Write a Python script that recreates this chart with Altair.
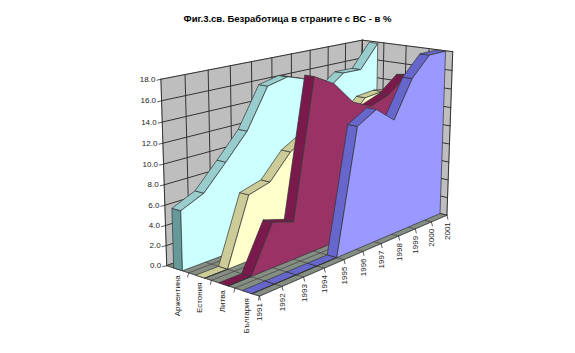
import altair as alt
import numpy as np
import pandas as pd

TITLE = "Фиг.3.св. Безработица в страните с ВС - в %"
years = ["1991","1992","1993","1994","1995","1996","1997","1998","1999","2000","2001"]
series = ["Аржентина","Естония","Литва","България"]
argentina = [5.9,6.9,9.3,11.8,15.8,16.3,15.6,13.9,15.4,15.35,17.85]
estonia   = [0,0,6.6,7.2,9.6,10.8,11.0,11.2,13.1,13.3,13.0]
lithuania = [0,0,4.5,3.8,17.5,16.35,14.05,13.1,13.8,15.4,15.0]
bulgaria  = [0,0,0,0,0,12.55,13.7,12.1,15.9,17.93,17.95]
values = [argentina, estonia, lithuania, bulgaria]
centers = [0.13,0.378,0.63,0.875]
ticks_v = [0,2,4,6,8,10,12,14,16,18]
front_col = ["#CCFFFF","#FFFFCC","#993366","#9999FF"]
strip_col = ["#99CCCC","#CCCC99","#7A1A4C","#6666CC"]
end_col   = ["#669999","#999966","#661A3C","#4D4D99"]

# projective camera fitted to the visible corners of the 3D box (u=year, w=depth, h=value)
corners = [((0,0,0),(167,266)),((0,0,1),(161,79)),((1,0,1),(362,40)),
           ((0,1,0),(259,296)),((1,1,0),(447,215)),((1,1,1),(453,52))]
A=[]
for (u,w,h),(x,y) in corners:
    A.append([u,w,h,1,0,0,0,0,-x*u,-x*w,-x*h,-x])
    A.append([0,0,0,0,u,w,h,1,-y*u,-y*w,-y*h,-y])
P=np.linalg.svd(np.array(A,float))[2][-1].reshape(3,4)
def proj(u,w,v):
    q=P@np.array([u,w,v/18.0,1.0])
    return float(q[0]/q[2]),float(q[1]/q[2])

rows=[]; pid=[0]
def poly(pts,fill,stroke="#333333",sw=0.7):
    pid[0]+=1
    for k,(x,y) in enumerate(pts):
        rows.append(dict(x=x,y=y,poly=pid[0],k=k,fill=fill,stroke=stroke,sw=sw))
def line3(a,b,stroke="#333333",sw=1.0):
    poly([proj(*a),proj(*b)],"transparent",stroke,sw)

WALL="#BEBEBE"
close=lambda l:l+[l[0]]
poly(close([proj(0,0,0),proj(0,0,18),proj(1,0,18),proj(1,0,0)]),WALL,"#999999",.6)
poly(close([proj(1,0,0),proj(1,0,18),proj(1,1,18),proj(1,1,0)]),WALL,"#999999",.6)
for v in ticks_v:
    line3((0,0,v),(1,0,v)); line3((1,0,v),(1,1,v))
n=len(years)
for i in range(n):
    line3((i/(n-1),0,0),(i/(n-1),0,18))
for j in range(5):
    line3((1,j/4,0),(1,j/4,18))
poly(close([proj(0,0,0),proj(1,0,0),proj(1,1,0),proj(0,1,0)]),"#858E83","#444444",.6)
for i in range(n):
    line3((i/(n-1),0,0),(i/(n-1),1,0),"#444444",.7)
for j in range(5):
    line3((0,j/4,0),(1,j/4,0),"#444444",.7)

HALF=0.05
for s,vals in enumerate(values):
    wf=centers[s]+HALF; wb=centers[s]-HALF
    us=[i/(n-1) for i in range(n)]
    if vals[0]>0:
        poly(close([proj(0,wb,0),proj(0,wb,vals[0]),proj(0,wf,vals[0]),proj(0,wf,0)]),end_col[s])
    for i in range(n-1):
        a=proj(us[i],wf,vals[i]); b=proj(us[i+1],wf,vals[i+1])
        c=proj(us[i+1],wb,vals[i+1]); d=proj(us[i],wb,vals[i])
        dx,dy=b[0]-a[0],b[1]-a[1]; ox,oy=d[0]-a[0],d[1]-a[1]
        if dx*oy-dy*ox<0:
            poly(close([a,b,c,d]),strip_col[s])
    top=[proj(us[i],wf,vals[i]) for i in range(n)]
    poly(close(top+[proj(1,wf,0),proj(0,wf,0)]),front_col[s])

# ticks
for v in ticks_v:
    x,y=proj(0,0,v); poly([(x,y),(x-4,y+1)],"transparent","#333333",.8)
for i in range(n):
    x,y=proj(i/(n-1),1,0); poly([(x,y),(x+1,y+4)],"transparent","#333333",.8)
for j in range(4):
    x,y=proj(0,(j+1)/4,0); poly([(x,y),(x-1,y+4)],"transparent","#333333",.8)

df=pd.DataFrame(rows)
W,H=559,337
X=alt.Scale(domain=[8,8+W],range=[0,W]); Y=alt.Scale(domain=[8,8+H],range=[0,H])
polys=alt.Chart(df).mark_line(interpolate="linear",strokeCap="round",strokeJoin="round").encode(
    x=alt.X("x:Q",scale=X,axis=None),y=alt.Y("y:Q",scale=Y,axis=None),
    detail="poly:N",order="k:Q",
    fill=alt.Fill("fill:N",scale=None),stroke=alt.Stroke("stroke:N",scale=None),
    strokeWidth=alt.StrokeWidth("sw:Q",scale=None))

lab_v=pd.DataFrame([dict(x=proj(0,0,v)[0]-5.5,y=proj(0,0,v)[1]+0.5,t=f"{v:.1f}") for v in ticks_v])
lab_y=pd.DataFrame([dict(x=proj(i/(n-1),1,0)[0]+1,y=proj(i/(n-1),1,0)[1]+7,t=years[i]) for i in range(n)])
lab_s=pd.DataFrame([dict(x=proj(0,(j+.5)/4,0)[0],y=proj(0,(j+.5)/4,0)[1]+6,t=series[j]) for j in range(4)])
FONT="Liberation Sans"
def texts(d,**kw):
    return alt.Chart(d).mark_text(font=FONT,fontSize=8,color="#222222",**kw).encode(
        x=alt.X("x:Q",scale=X,axis=None),y=alt.Y("y:Q",scale=Y,axis=None),text="t:N")

chart=alt.layer(polys,texts(lab_v,align="right",baseline="middle"),
    texts(lab_y,align="right",baseline="middle",angle=270),
    texts(lab_s,align="right",baseline="middle",angle=270)).properties(
    width=W,height=H,padding=0,autosize=alt.AutoSizeParams(type="none"),
    title=alt.TitleParams(TITLE,font=FONT,fontSize=9.5,fontWeight="bold",anchor="middle",color="#000000",dy=19)
).configure_view(stroke=None)
chart.save("out.html",embed_options={"renderer":"svg","actions":False})
